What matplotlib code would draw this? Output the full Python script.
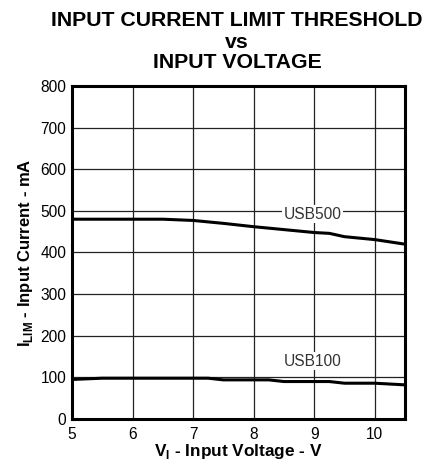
import matplotlib
matplotlib.use("Agg")
import matplotlib.pyplot as plt

plt.rcParams['font.family'] = ['Liberation Sans', 'DejaVu Sans']
plt.rcParams['mathtext.fontset'] = 'custom'
plt.rcParams['mathtext.bf'] = 'Liberation Sans:bold'
plt.rcParams['mathtext.rm'] = 'Liberation Sans'

usb500_v = [5.0, 5.5, 6.0, 6.5, 7.0, 7.5, 8.0, 8.5, 9.0, 9.25, 9.5, 10.0, 10.5]
usb500_i = [480, 480, 480, 480, 477, 470, 462, 455, 448, 446, 438, 431, 420]
usb100_v = [5.0, 5.5, 6.0, 6.5, 7.0, 7.25, 7.5, 8.0, 8.25, 8.5, 9.0, 9.25, 9.5, 10.0, 10.5]
usb100_i = [95, 98, 98, 98, 98, 98, 94, 94, 94, 90, 90, 90, 86, 86, 82]
x_ticks = [5, 6, 7, 8, 9, 10]
y_ticks = [0, 100, 200, 300, 400, 500, 600, 700, 800]

fig = plt.figure(figsize=(4.26, 4.61), dpi=100)
W, H = 426, 461
ax = fig.add_axes([72 / W, 1 - 419 / H, (405 - 72) / W, (419 - 86) / H])

ax.plot(usb500_v, usb500_i, color='black', lw=2.2, zorder=3)
ax.plot(usb100_v, usb100_i, color='black', lw=2.2, zorder=3)

ax.set_xlim(5, 10.5)
ax.set_ylim(0, 800)
ax.set_xticks(x_ticks)
ax.set_yticks(y_ticks)
ax.grid(True, color='#222222', lw=0.9)
ax.tick_params(length=0, labelsize=11.2)
ax.tick_params(axis='x', pad=5.5)
ax.tick_params(axis='y', pad=4)
for s in ax.spines.values():
    s.set_linewidth(2.2)

ax.text(8.97, 492, 'USB500', ha='center', va='center', fontsize=11.2, color='#333333',
        bbox=dict(facecolor='white', edgecolor='none', pad=1), zorder=4)
ax.text(8.97, 139, 'USB100', ha='center', va='center', fontsize=11.2, color='#333333',
        bbox=dict(facecolor='white', edgecolor='none', pad=1), zorder=4)

ax.set_xlabel(r'V$_\mathbf{I}$ - Input Voltage - V', fontsize=12.4, fontweight='bold', labelpad=0.5)
ax.set_ylabel(r'I$_\mathbf{LIM}$ - Input Current - mA', fontsize=12, fontweight='bold', labelpad=4)

fig.text(237 / W, 1 - 20 / H, 'INPUT CURRENT LIMIT THRESHOLD', ha='center', va='center',
         fontsize=15.3, fontweight='bold')
fig.text(237 / W, 1 - 43 / H, 'vs', ha='center', va='center', fontsize=15.3, fontweight='bold')
fig.text(237 / W, 1 - 63 / H, 'INPUT VOLTAGE', ha='center', va='center', fontsize=15.3, fontweight='bold')

fig.savefig('out.png', dpi=100)
